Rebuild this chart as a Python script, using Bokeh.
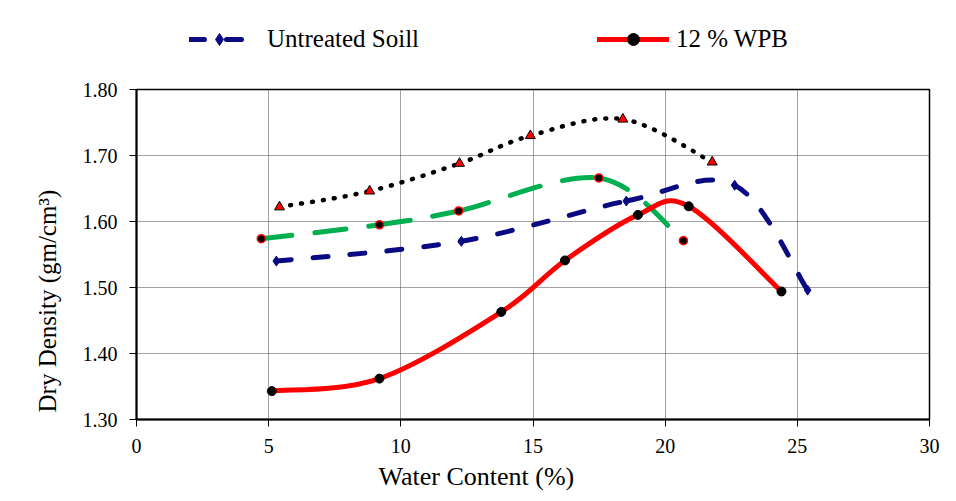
from bokeh.plotting import figure
from bokeh.layouts import column
from bokeh.models import (Range1d, FixedTicker, Legend, LegendItem, PrintfTickFormatter,
                          ColumnDataSource, Title)
from bokeh.embed import file_html
from bokeh.resources import INLINE

# ---- data ----
x_ticks = [0, 5, 10, 15, 20, 25, 30]
y_ticks = [1.30, 1.40, 1.50, 1.60, 1.70, 1.80]

untreated_x = [5.29, 12.29, 18.53, 22.63, 25.39]
untreated_y = [1.540, 1.570, 1.631, 1.655, 1.496]

wpb12_x = [5.12, 9.19, 13.80, 16.21, 18.97, 20.89, 24.40]
wpb12_y = [1.343, 1.362, 1.463, 1.541, 1.610, 1.623, 1.494]

green_x = [4.72, 9.19, 12.19, 17.49, 20.69]
green_y = [1.574, 1.595, 1.616, 1.666, 1.571]

dotted_x = [5.41, 8.82, 12.22, 14.90, 18.40, 21.78]
dotted_y = [1.622, 1.646, 1.688, 1.730, 1.755, 1.690]

x_title = "Water Content (%)"
y_title = "Dry Density (gm/cm³)"
label_untreated = "Untreated Soill"
label_wpb12 = "12 % WPB"

FONT = "Liberation Serif"
NAVY = "#0A0A82"
GREEN = "#00B050"
RED = "#FF0000"


def smooth_source(xs, ys):
    """Bezier control points for an Excel-like smoothed line through the data points."""
    n = len(xs)
    d = dict(x0=[], y0=[], x1=[], y1=[], cx0=[], cy0=[], cx1=[], cy1=[])
    for i in range(n - 1):
        xp, yp = (xs[i - 1], ys[i - 1]) if i > 0 else (xs[i], ys[i])
        xn, yn = (xs[i + 2], ys[i + 2]) if i + 2 < n else (xs[i + 1], ys[i + 1])
        d["x0"].append(xs[i]); d["y0"].append(ys[i])
        d["x1"].append(xs[i + 1]); d["y1"].append(ys[i + 1])
        d["cx0"].append(xs[i] + (xs[i + 1] - xp) / 6.0)
        d["cy0"].append(ys[i] + (ys[i + 1] - yp) / 6.0)
        d["cx1"].append(xs[i + 1] - (xn - xs[i]) / 6.0)
        d["cy1"].append(ys[i + 1] - (yn - ys[i]) / 6.0)
    return ColumnDataSource(d)


LEG_H = 60
p = figure(frame_width=793, frame_height=330,
           min_border_left=136, min_border_right=18, min_border_top=89 - LEG_H,
           min_border_bottom=73,
           x_range=Range1d(0, 30), y_range=Range1d(1.3, 1.8),
           output_backend="svg", toolbar_location=None)

p.outline_line_color = "black"
p.outline_line_width = 1.5

for ax in (p.xaxis[0], p.yaxis[0]):
    ax.axis_line_color = "black"
    ax.axis_line_width = 2
    ax.major_tick_line_color = "black"
    ax.major_tick_line_width = 1
    ax.major_tick_out = 7
    ax.major_tick_in = 0
    ax.minor_tick_line_color = None
    ax.major_label_text_font = FONT
    ax.major_label_text_font_size = "20px"
    ax.major_label_text_color = "black"

p.xaxis.ticker = FixedTicker(ticks=x_ticks)
p.yaxis.ticker = FixedTicker(ticks=y_ticks)
p.yaxis.formatter = PrintfTickFormatter(format="%.2f")
p.xaxis.major_label_standoff = 12
p.yaxis.major_label_standoff = 12

# axis titles (placed off-centre as in the reference)
p.add_layout(Title(text=x_title, align="left", offset=242, standoff=9,
                   text_font=FONT, text_font_size="26px", text_font_style="normal",
                   text_color="black"), "below")
p.add_layout(Title(text=y_title, align="left", offset=7, standoff=38,
                   text_font=FONT, text_font_size="25px", text_font_style="normal",
                   text_color="black"), "left")

for g in (p.xgrid[0], p.ygrid[0]):
    g.grid_line_color = "#444444"
    g.grid_line_dash = "1 1"
    g.grid_line_width = 1

# smoothed lines
p.bezier(x0="x0", y0="y0", x1="x1", y1="y1", cx0="cx0", cy0="cy0", cx1="cx1", cy1="cy1",
         source=smooth_source(untreated_x, untreated_y),
         line_color=NAVY, line_width=5, line_dash="15 22", line_cap="round")
p.bezier(x0="x0", y0="y0", x1="x1", y1="y1", cx0="cx0", cy0="cy0", cx1="cx1", cy1="cy1",
         source=smooth_source(green_x, green_y),
         line_color=GREEN, line_width=5, line_dash="31 23", line_cap="round")
p.bezier(x0="x0", y0="y0", x1="x1", y1="y1", cx0="cx0", cy0="cy0", cx1="cx1", cy1="cy1",
         source=smooth_source(dotted_x, dotted_y),
         line_color="black", line_width=4.5, line_dash="1 10", line_cap="round")
p.bezier(x0="x0", y0="y0", x1="x1", y1="y1", cx0="cx0", cy0="cy0", cx1="cx1", cy1="cy1",
         source=smooth_source(wpb12_x, wpb12_y),
         line_color=RED, line_width=5)

# markers
p.scatter(untreated_x, untreated_y, marker="diamond", size=10,
          fill_color=NAVY, line_color=NAVY)
p.scatter(green_x, green_y, marker="circle", size=8, fill_color="black",
          line_color=RED, line_width=1.5)
p.scatter(dotted_x, dotted_y, marker="triangle", size=10, fill_color=RED,
          line_color="black", line_width=1)
p.scatter(wpb12_x, wpb12_y, marker="circle", size=9, fill_color="black",
          line_color="black")

# ---- legend strip (separate figure on top, so the legend is not clipped) ----
# its ranges (0..1) lie outside the data, so the series renderers here only feed the legend
pl = figure(width=136 + 793 + 18, height=LEG_H, x_range=Range1d(0, 1), y_range=Range1d(0, 1),
            min_border=0, x_axis_type=None, y_axis_type=None,
            output_backend="svg", toolbar_location=None)
pl.outline_line_color = None
pl.xgrid.visible = False
pl.ygrid.visible = False

bl_line = pl.line(untreated_x, untreated_y, line_color=NAVY, line_width=5,
                  line_dash="15 22", line_cap="round")
bl_mark = pl.scatter(untreated_x, untreated_y, marker="diamond", size=10,
                     fill_color=NAVY, line_color=NAVY)
rd_line = pl.line(wpb12_x, wpb12_y, line_color=RED, line_width=5, line_cap="round")
rd_mark = pl.scatter(wpb12_x, wpb12_y, marker="circle", size=9,
                     fill_color="black", line_color="black")

leg_common = dict(orientation="horizontal", glyph_height=30, label_height=30,
                  padding=0, margin=0, spacing=0, border_line_color=None,
                  background_fill_alpha=0, label_text_font=FONT,
                  label_text_font_size="25px", label_text_color="black")

leg1 = Legend(items=[LegendItem(label=label_untreated, renderers=[bl_line, bl_mark])],
              location=(53, 6), glyph_width=60, label_standoff=18, **leg_common)
leg2 = Legend(items=[LegendItem(label=label_wpb12, renderers=[rd_line, rd_mark])],
              location=(461, 6), glyph_width=72, label_standoff=7, **leg_common)
pl.add_layout(leg1)
pl.add_layout(leg2)

layout = column(pl, p, spacing=0)
open("out.html", "w").write(file_html(layout, INLINE))
